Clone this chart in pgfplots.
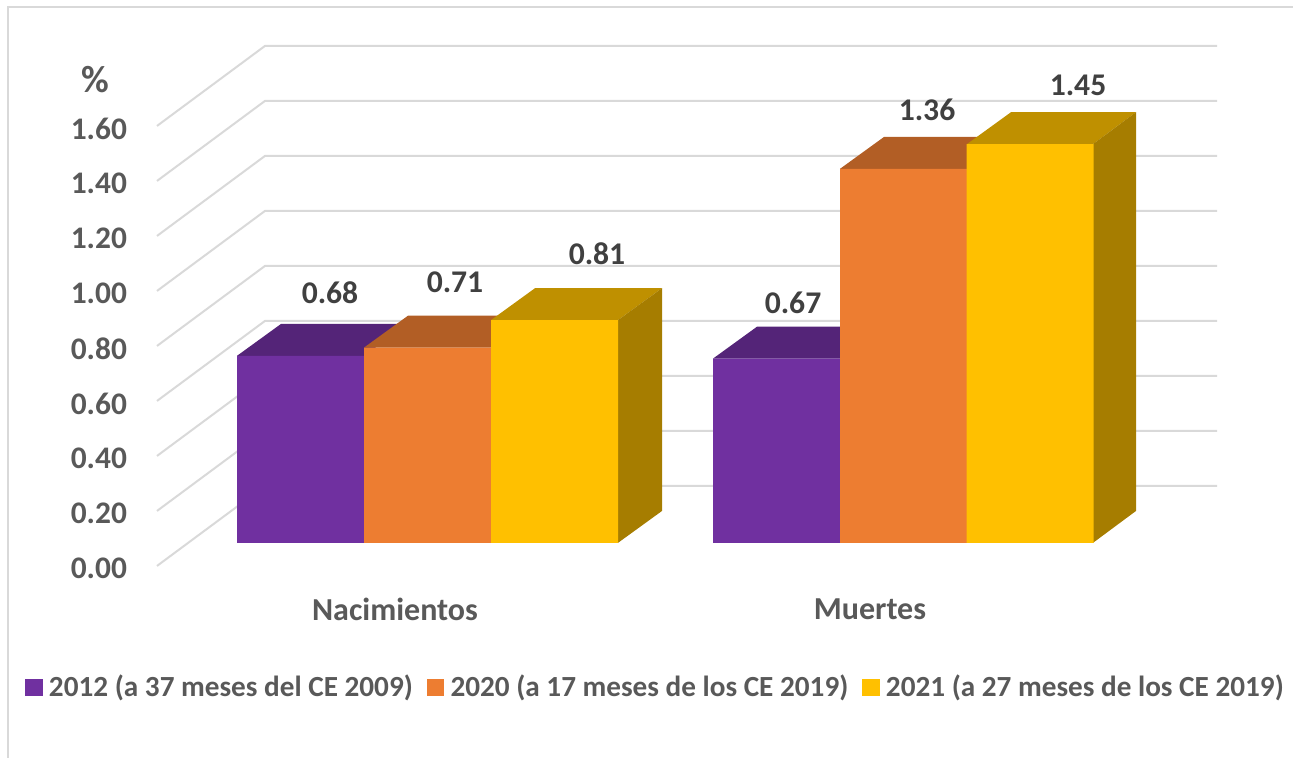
\documentclass[border=0pt]{standalone}
\usepackage{pgfplots}
\pgfplotsset{compat=1.18}
\usepackage{fontspec}
\setmainfont{Carlito}
\definecolor{cpurple}{HTML}{7030A0}
\definecolor{cpurpletop}{HTML}{542478}
\definecolor{corange}{HTML}{ED7D31}
\definecolor{corangetop}{HTML}{B25E25}
\definecolor{cyellow}{HTML}{FFC000}
\definecolor{cyellowtop}{HTML}{BF9000}
\definecolor{cyellowside}{HTML}{A67D00}
\definecolor{cgrid}{HTML}{D9D9D9}
\definecolor{ctext}{HTML}{595959}
\definecolor{clabel}{HTML}{404040}
% one pixel of the reference = 0.5pt; x in pixels, y in chart values (front plane)
\pgfplotsset{
    grid line/.style={forget plot, color=cgrid, line width=1pt},
    face/.style={forget plot, draw=none, fill=#1},
    front/.style={ybar, bar shift=0pt, bar width=127, draw=none, fill=#1},
}
\begin{document}
\begin{tikzpicture}
\begin{axis}[
    name=ax,
    scale only axis,
    width=646.5pt, height=379pt,
    xmin=0, xmax=1293,
    ymin=-0.7824, ymax=1.974,
    axis line style={draw=none},
    major tick length=0pt,
    axis x line*=bottom, axis y line*=left,
    xtick={395,870}, xticklabels={Nacimientos,Muertes},
    ytick={0,0.2,0.4,0.6,0.8,1,1.2,1.4,1.6},
    /pgf/number format/fixed,
    /pgf/number format/fixed zerofill,
    /pgf/number format/precision=2,
    /pgf/number format/assume math mode=true,
    tick label style={font=\fontsize{15.7}{17}\selectfont\bfseries, text=ctext},
    xticklabel style={font=\fontsize{16}{18}\selectfont\bfseries, anchor=center, yshift=74.5pt},
    yticklabel style={anchor=east, xshift=67pt, yshift=-12.9pt},
    legend columns=-1,
    legend style={at={(axis cs:19,-0.525)}, anchor=west, draw=none, fill=none,
        font=\fontsize{14.6}{16}\selectfont\bfseries, text=ctext,
        /tikz/every even column/.style={column sep=5pt},
        /tikz/every odd column/.style={column sep=1.2pt}},
    legend image code/.code={\fill[#1] (0pt,-4.3pt) rectangle (8.6pt,4.3pt);},
    clip=false,
]
% frame
\addplot[forget plot, color=cgrid, line width=1pt] coordinates {(8,-0.7824) (8,1.949) (1293,1.949)};
% back wall lines and side wall lines
\addplot[grid line] coordinates {(157,-0.084) (265,0.207) (1217,0.207)};
\addplot[grid line] coordinates {(157,0.116) (265,0.407) (1217,0.407)};
\addplot[grid line] coordinates {(157,0.316) (265,0.607) (1217,0.607)};
\addplot[grid line] coordinates {(157,0.516) (265,0.807) (1217,0.807)};
\addplot[grid line] coordinates {(157,0.716) (265,1.007) (1217,1.007)};
\addplot[grid line] coordinates {(157,0.916) (265,1.207) (1217,1.207)};
\addplot[grid line] coordinates {(157,1.116) (265,1.407) (1217,1.407)};
\addplot[grid line] coordinates {(157,1.316) (265,1.607) (1217,1.607)};
\addplot[grid line] coordinates {(157,1.516) (265,1.807) (1217,1.807)};
% Nacimientos
\addplot[face=cpurpletop] coordinates {(237,0.68) (281,0.796) (408,0.796) (364,0.68)};
\addplot[face=corangetop] coordinates {(364,0.71) (408,0.826) (535,0.826) (491,0.71)};
\addplot[face=cyellowtop] coordinates {(491,0.81) (535,0.926) (662,0.926) (618,0.81)};
\addplot[face=cyellowside] coordinates {(618,0) (662,0.116) (662,0.926) (618,0.81)};
% Muertes
\addplot[face=cpurpletop] coordinates {(713,0.67) (757,0.786) (884,0.786) (840,0.67)};
\addplot[face=corangetop] coordinates {(840,1.36) (884,1.476) (1011,1.476) (967,1.36)};
\addplot[face=cyellowtop] coordinates {(967,1.45) (1011,1.566) (1136,1.566) (1093,1.45)};
\addplot[face=cyellowside] coordinates {(1093,0) (1136,0.116) (1136,1.566) (1093,1.45)};
% front faces
\addplot[front=cpurple] coordinates {(300.5,0.68) (776.5,0.67)};
\addplot[front=corange] coordinates {(427.5,0.71) (903.5,1.36)};
\addplot[front=cyellow] coordinates {(554.5,0.81) (1030,1.45)};
\legend{2012 (a 37 meses del CE 2009),2020 (a 17 meses de los CE 2019),2021 (a 27 meses de los CE 2019)}
% value labels
\tikzset{vlabel/.style={font=\fontsize{15.8}{17}\selectfont\bfseries, text=clabel}}
\node[vlabel] at (axis cs:330,0.909) {0.68};
\node[vlabel] at (axis cs:455,0.949) {0.71};
\node[vlabel] at (axis cs:597,1.051) {0.81};
\node[vlabel] at (axis cs:793,0.873) {0.67};
\node[vlabel] at (axis cs:927,1.575) {1.36};
\node[vlabel] at (axis cs:1078,1.662) {1.45};
\node[font=\fontsize{19}{21}\selectfont\bfseries, text=ctext] at (axis cs:95,1.684) {\%};
\end{axis}
% legend box pokes past the right edge; keep the page at the axis size
\pgfresetboundingbox
\useasboundingbox (ax.south west) rectangle (ax.north east);
\end{tikzpicture}
\end{document}
